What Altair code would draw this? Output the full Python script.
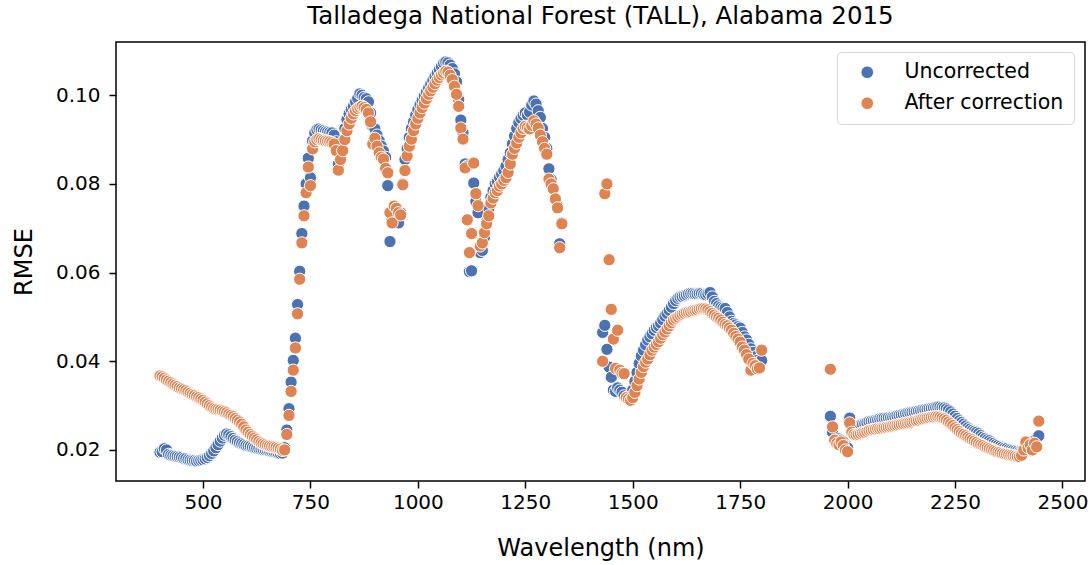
import altair as alt
import pandas as pd

# ---------------- data ----------------
series_names = ["Uncorrected", "After correction"]
series_colors = ["#4C72B0", "#DD8452"]
x_ticks = [500, 750, 1000, 1250, 1500, 1750, 2000, 2250, 2500]
y_ticks = [0.02, 0.04, 0.06, 0.08, 0.10]

wl_vnir = [
    400, 405, 410, 415, 420, 425, 430, 435, 440, 445, 450, 455, 460, 465, 470, 475, 480, 485, 490, 495,
    500, 505, 510, 515, 520, 525, 530, 535, 540, 545, 550, 555, 560, 565, 570, 575, 580, 585, 590, 595,
    600, 605, 610, 615, 620, 625, 630, 635, 640, 645, 650, 655, 660, 665, 670, 675, 680, 685, 690, 695,
    700, 705, 710, 715, 720, 725, 730, 735, 740, 745, 750, 755, 760, 765, 770, 775, 780, 785, 790, 795,
    800, 805, 810, 815, 820, 825, 830, 835, 840, 845, 850, 855, 860, 865, 870, 875, 880, 885, 890, 895,
    900, 905, 910, 915, 920, 925, 930, 935, 940, 945, 950, 955, 960, 965, 970, 975, 980, 985, 990, 995,
    1000, 1005, 1010, 1015, 1020, 1025, 1030, 1035, 1040, 1045, 1050, 1055, 1060, 1065, 1070, 1075, 1080, 1085, 1090, 1095,
    1100, 1105, 1110, 1115, 1120, 1125, 1130, 1135, 1140, 1145, 1150, 1155, 1160, 1165, 1170, 1175, 1180, 1185, 1190, 1195,
    1200, 1205, 1210, 1215, 1220, 1225, 1230, 1235, 1240, 1245, 1250, 1255, 1260, 1265, 1270, 1275, 1280, 1285, 1290, 1295,
    1300, 1305, 1310, 1315, 1320, 1325, 1330, 1335,
]
uncorr_vnir = [
    0.0195, 0.0196, 0.0203, 0.0200, 0.0190, 0.0188, 0.0187, 0.0186, 0.0185, 0.0184, 0.0183, 0.0181, 0.0180, 0.0178, 0.0177, 0.0176, 0.0176, 0.0175, 0.0176, 0.0177,
    0.0178, 0.0180, 0.0183, 0.0187, 0.0192, 0.0198, 0.0205, 0.0212, 0.0220, 0.0227, 0.0233, 0.0236, 0.0234, 0.0230, 0.0226, 0.0222, 0.0219, 0.0216, 0.0214, 0.0212,
    0.0210, 0.0209, 0.0208, 0.0206, 0.0205, 0.0204, 0.0203, 0.0202, 0.0201, 0.0200, 0.0199, 0.0198, 0.0197, 0.0196, 0.0195, 0.0193, 0.0192, 0.0193, 0.0205, 0.0245,
    0.0293, 0.0353, 0.0402, 0.0452, 0.0528, 0.0603, 0.0688, 0.0750, 0.0800, 0.0858, 0.0814, 0.0897, 0.0915, 0.0922, 0.0924, 0.0922, 0.0920, 0.0918, 0.0917, 0.0916,
    0.0915, 0.0910, 0.0895, 0.0845, 0.0870, 0.0895, 0.0925, 0.0945, 0.0958, 0.0968, 0.0975, 0.0985, 0.0993, 0.1003, 0.1000, 0.0995, 0.0992, 0.0985, 0.0960, 0.0930,
    0.0924, 0.0910, 0.0897, 0.0885, 0.0874, 0.0860, 0.0796, 0.0670, 0.0720, 0.0740, 0.0725, 0.0712, 0.0735, 0.0800, 0.0855, 0.0880, 0.0905, 0.0925, 0.0940, 0.0955,
    0.0968, 0.0978, 0.0988, 0.0998, 0.1007, 0.1016, 0.1025, 0.1033, 0.1042, 0.1050, 0.1058, 0.1065, 0.1072, 0.1075, 0.1073, 0.1068, 0.1060, 0.1048, 0.1030, 0.0990,
    0.0944, 0.0915, 0.0845, 0.0840, 0.0602, 0.0604, 0.0802, 0.0760, 0.0735, 0.0645, 0.0650, 0.0680, 0.0715, 0.0745, 0.0770, 0.0785, 0.0800, 0.0805, 0.0815, 0.0822,
    0.0830, 0.0840, 0.0855, 0.0870, 0.0890, 0.0908, 0.0925, 0.0938, 0.0948, 0.0955, 0.0960, 0.0955, 0.0962, 0.0978, 0.0987, 0.0980, 0.0965, 0.0950, 0.0925, 0.0905,
    0.0880, 0.0834, 0.0810, 0.0790, 0.0765, 0.0750, 0.0665, 0.0712,
]
corr_vnir = [
    0.0367, 0.0365, 0.0362, 0.0358, 0.0355, 0.0352, 0.0349, 0.0346, 0.0343, 0.0340, 0.0338, 0.0336, 0.0334, 0.0331, 0.0328, 0.0325, 0.0323, 0.0320, 0.0318, 0.0315,
    0.0312, 0.0308, 0.0304, 0.0300, 0.0297, 0.0294, 0.0292, 0.0291, 0.0290, 0.0288, 0.0286, 0.0284, 0.0281, 0.0278, 0.0275, 0.0271, 0.0267, 0.0263, 0.0258, 0.0252,
    0.0245, 0.0240, 0.0235, 0.0231, 0.0227, 0.0223, 0.0219, 0.0216, 0.0214, 0.0212, 0.0210, 0.0209, 0.0208, 0.0207, 0.0206, 0.0204, 0.0202, 0.0199, 0.0200, 0.0235,
    0.0278, 0.0332, 0.0380, 0.0430, 0.0507, 0.0585, 0.0667, 0.0728, 0.0780, 0.0838, 0.0796, 0.0879, 0.0895, 0.0900, 0.0902, 0.0900, 0.0898, 0.0897, 0.0896, 0.0895,
    0.0893, 0.0890, 0.0875, 0.0831, 0.0855, 0.0875, 0.0900, 0.0920, 0.0935, 0.0948, 0.0958, 0.0965, 0.0970, 0.0973, 0.0975, 0.0972, 0.0968, 0.0960, 0.0940, 0.0890,
    0.0903, 0.0885, 0.0870, 0.0860, 0.0856, 0.0835, 0.0825, 0.0735, 0.0712, 0.0750, 0.0745, 0.0735, 0.0730, 0.0798, 0.0830, 0.0863, 0.0885, 0.0901, 0.0920, 0.0935,
    0.0948, 0.0960, 0.0972, 0.0982, 0.0992, 0.1002, 0.1010, 0.1018, 0.1026, 0.1034, 0.1040, 0.1046, 0.1050, 0.1054, 0.1052, 0.1045, 0.1035, 0.1020, 0.1002, 0.0975,
    0.0926, 0.0901, 0.0836, 0.0719, 0.0645, 0.0688, 0.0847, 0.0778, 0.0751, 0.0660, 0.0667, 0.0690, 0.0710, 0.0728, 0.0757, 0.0768, 0.0780, 0.0785, 0.0795, 0.0800,
    0.0808, 0.0814, 0.0826, 0.0845, 0.0867, 0.0880, 0.0892, 0.0905, 0.0915, 0.0925, 0.0930, 0.0927, 0.0924, 0.0932, 0.0942, 0.0935, 0.0926, 0.0910, 0.0895, 0.0880,
    0.0867, 0.0811, 0.0800, 0.0789, 0.0766, 0.0746, 0.0656, 0.0710,
]

wl_swir1 = [
    1430, 1435, 1440, 1445, 1450, 1455, 1460, 1465, 1470, 1475, 1480, 1485, 1490, 1495, 1500, 1505, 1510, 1515, 1520, 1525,
    1530, 1535, 1540, 1545, 1550, 1555, 1560, 1565, 1570, 1575, 1580, 1585, 1590, 1595, 1600, 1605, 1610, 1615, 1620, 1625,
    1630, 1635, 1640, 1645, 1650, 1655, 1660, 1665, 1670, 1675, 1680, 1685, 1690, 1695, 1700, 1705, 1710, 1715, 1720, 1725,
    1730, 1735, 1740, 1745, 1750, 1755, 1760, 1765, 1770, 1775, 1780, 1785, 1790, 1795, 1800,
]
uncorr_swir1 = [
    0.0465, 0.0481, 0.0427, 0.0387, 0.0364, 0.0335, 0.0332, 0.0340, 0.0335, 0.0330, 0.0322, 0.0318, 0.0316, 0.0320, 0.0335, 0.0355, 0.0375, 0.0395, 0.0412, 0.0425,
    0.0437, 0.0448, 0.0455, 0.0462, 0.0470, 0.0476, 0.0480, 0.0486, 0.0494, 0.0502, 0.0508, 0.0515, 0.0522, 0.0530, 0.0537, 0.0542, 0.0545, 0.0546, 0.0548, 0.0550,
    0.0552, 0.0553, 0.0553, 0.0552, 0.0552, 0.0553, 0.0553, 0.0551, 0.0550, 0.0552, 0.0555, 0.0545, 0.0535, 0.0530, 0.0525, 0.0522, 0.0520, 0.0519, 0.0510, 0.0500,
    0.0490, 0.0485, 0.0482, 0.0478, 0.0475, 0.0465, 0.0455, 0.0448, 0.0438, 0.0428, 0.0420, 0.0410, 0.0402, 0.0398, 0.0402,
]
corr_swir1 = [
    0.0400, 0.0778, 0.0800, 0.0629, 0.0517, 0.0450, 0.0384, 0.0470, 0.0380, 0.0373, 0.0372, 0.0318, 0.0315, 0.0312, 0.0318, 0.0330, 0.0345, 0.0360, 0.0375, 0.0388,
    0.0398, 0.0405, 0.0415, 0.0425, 0.0432, 0.0438, 0.0444, 0.0452, 0.0460, 0.0466, 0.0473, 0.0480, 0.0487, 0.0493, 0.0497, 0.0500, 0.0504, 0.0506, 0.0508, 0.0510,
    0.0511, 0.0512, 0.0514, 0.0515, 0.0516, 0.0518, 0.0519, 0.0519, 0.0518, 0.0516, 0.0512, 0.0508, 0.0504, 0.0500, 0.0497, 0.0493, 0.0488, 0.0483, 0.0480, 0.0475,
    0.0470, 0.0463, 0.0456, 0.0450, 0.0443, 0.0432, 0.0425, 0.0415, 0.0405, 0.0380, 0.0395, 0.0390, 0.0383, 0.0385, 0.0425,
]

wl_swir2 = [
    1960, 1965, 1970, 1975, 1980, 1985, 1990, 1995, 2000, 2005, 2010, 2015, 2020, 2025, 2030, 2035, 2040, 2045, 2050, 2055,
    2060, 2065, 2070, 2075, 2080, 2085, 2090, 2095, 2100, 2105, 2110, 2115, 2120, 2125, 2130, 2135, 2140, 2145, 2150, 2155,
    2160, 2165, 2170, 2175, 2180, 2185, 2190, 2195, 2200, 2205, 2210, 2215, 2220, 2225, 2230, 2235, 2240, 2245, 2250, 2255,
    2260, 2265, 2270, 2275, 2280, 2285, 2290, 2295, 2300, 2305, 2310, 2315, 2320, 2325, 2330, 2335, 2340, 2345, 2350, 2355,
    2360, 2365, 2370, 2375, 2380, 2385, 2390, 2395, 2400, 2405, 2410, 2415, 2420, 2425, 2430, 2435, 2440, 2445,
]
uncorr_swir2 = [
    0.0276, 0.0240, 0.0222, 0.0220, 0.0225, 0.0222, 0.0218, 0.0210, 0.0205, 0.0272, 0.0255, 0.0248, 0.0250, 0.0253, 0.0256, 0.0258, 0.0260, 0.0262, 0.0264, 0.0265,
    0.0266, 0.0267, 0.0268, 0.0270, 0.0271, 0.0272, 0.0272, 0.0273, 0.0273, 0.0274, 0.0275, 0.0277, 0.0278, 0.0279, 0.0280, 0.0282, 0.0283, 0.0284, 0.0285, 0.0286,
    0.0287, 0.0288, 0.0289, 0.0290, 0.0291, 0.0292, 0.0293, 0.0294, 0.0295, 0.0296, 0.0297, 0.0297, 0.0296, 0.0295, 0.0293, 0.0290, 0.0286, 0.0281, 0.0276, 0.0271,
    0.0266, 0.0262, 0.0258, 0.0254, 0.0250, 0.0247, 0.0244, 0.0242, 0.0240, 0.0237, 0.0233, 0.0229, 0.0226, 0.0223, 0.0221, 0.0218, 0.0215, 0.0212, 0.0210, 0.0208,
    0.0206, 0.0204, 0.0203, 0.0201, 0.0200, 0.0199, 0.0198, 0.0197, 0.0196, 0.0197, 0.0200, 0.0205, 0.0210, 0.0215, 0.0218, 0.0222, 0.0226, 0.0232,
]
corr_swir2 = [
    0.0382, 0.0252, 0.0222, 0.0215, 0.0212, 0.0218, 0.0210, 0.0200, 0.0196, 0.0261, 0.0240, 0.0235, 0.0234, 0.0235, 0.0237, 0.0239, 0.0240, 0.0242, 0.0244, 0.0245,
    0.0246, 0.0247, 0.0248, 0.0248, 0.0249, 0.0250, 0.0251, 0.0252, 0.0253, 0.0254, 0.0255, 0.0256, 0.0257, 0.0258, 0.0259, 0.0260, 0.0261, 0.0262, 0.0263, 0.0265,
    0.0266, 0.0267, 0.0269, 0.0270, 0.0271, 0.0272, 0.0273, 0.0274, 0.0274, 0.0275, 0.0275, 0.0274, 0.0272, 0.0270, 0.0267, 0.0263, 0.0259, 0.0255, 0.0250, 0.0246,
    0.0242, 0.0238, 0.0235, 0.0232, 0.0229, 0.0226, 0.0223, 0.0220, 0.0217, 0.0214, 0.0212, 0.0210, 0.0207, 0.0205, 0.0203, 0.0201, 0.0199, 0.0197, 0.0195, 0.0194,
    0.0192, 0.0191, 0.0190, 0.0189, 0.0188, 0.0187, 0.0186, 0.0185, 0.0185, 0.0188, 0.0200, 0.0218, 0.0205, 0.0212, 0.0200, 0.0215, 0.0207, 0.0265,
]

# ---------------- table ----------------
wavelengths = wl_vnir + wl_swir1 + wl_swir2
uncorrected = uncorr_vnir + uncorr_swir1 + uncorr_swir2
corrected = corr_vnir + corr_swir1 + corr_swir2
n = len(wavelengths)

df = pd.DataFrame({
    "Wavelength": wavelengths + wavelengths,
    "RMSE": uncorrected + corrected,
    "Series": [series_names[0]] * n + [series_names[1]] * n,
    "order": list(range(2 * n)),
})

FONT = "DejaVu Sans"

chart = (
    alt.Chart(df)
    .mark_circle(opacity=1, size=150, stroke="white", strokeWidth=1)
    .encode(
        x=alt.X(
            "Wavelength:Q",
            scale=alt.Scale(domain=[297.5, 2552.5], nice=False, zero=False),
            axis=alt.Axis(values=x_ticks, format="d", title="Wavelength (nm)",
                          labelPadding=4, titlePadding=24),
        ),
        y=alt.Y(
            "RMSE:Q",
            scale=alt.Scale(domain=[0.013, 0.112], nice=False, zero=False),
            axis=alt.Axis(values=y_ticks, format=".2f", title="RMSE",
                          labelPadding=9, titlePadding=19),
        ),
        color=alt.Color(
            "Series:N",
            scale=alt.Scale(domain=series_names, range=series_colors),
            legend=alt.Legend(
                title=None, orient="none", legendX=721, legendY=10,
                padding=10, strokeColor="#d6d6d6", fillColor="white",
                cornerRadius=4, labelFontSize=20.5, labelFont=FONT,
                labelColor="black", symbolSize=160, symbolStrokeWidth=1,
                symbolStrokeColor="white", symbolOpacity=1,
                symbolType="circle", rowPadding=10, labelOffset=27,
                symbolOffset=10,
            ),
        ),
        order=alt.Order("order:Q"),
    )
    .properties(
        width=969,
        height=439,
        title=alt.TitleParams(
            "Talladega National Forest (TALL), Alabama 2015",
            font=FONT, fontSize=24.5, fontWeight="normal", color="black",
            anchor="middle", baseline="alphabetic", offset=15, dy=21,
        ),
        autosize=alt.AutoSizeParams(type="none"),
        padding={"left": 116, "top": 42, "right": 7, "bottom": 84},
        background="white",
    )
    .configure_view(stroke="black", strokeWidth=1.5)
    .configure_axis(
        grid=False, domain=False, tickColor="black", tickWidth=1.5, tickSize=7,
        labelFont=FONT, labelFontSize=20, labelColor="black",
        titleFont=FONT, titleFontSize=24, titleFontWeight="normal", titleColor="black",
    )
)

chart.save("out.html", embed_options={"renderer": "svg", "actions": False})
